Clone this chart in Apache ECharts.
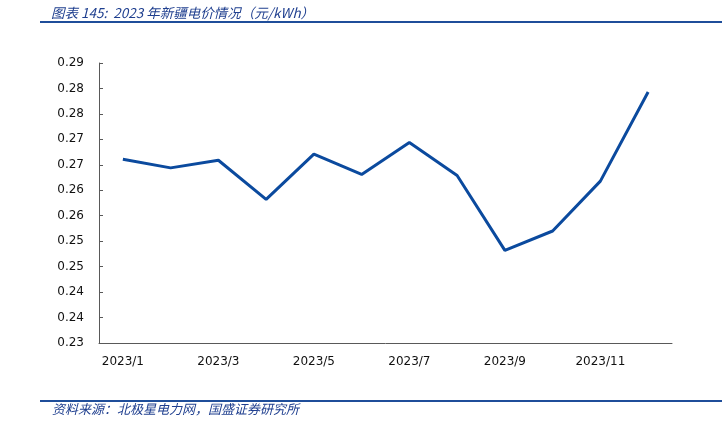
<!DOCTYPE html>
<html>
<head>
<meta charset="utf-8">
<script src="https://cdn.jsdelivr.net/npm/echarts@6/dist/echarts.min.js"></script>
<style>
html,body{margin:0;padding:0;background:#fff;}
#c{width:722px;height:432px;}
</style>
</head>
<body>
<div id="c"></div>
<script>
const titleText = '图表 145:  2023 年新疆电价情况（元/kWh）';
const sourceText = '资料来源：北极星电力网，国盛证券研究所';
const months = ['2023/1','2023/2','2023/3','2023/4','2023/5','2023/6','2023/7','2023/8','2023/9','2023/10','2023/11','2023/12'];
const prices = [0.2661,0.2644,0.2659,0.2582,0.2671,0.2631,0.2694,0.2629,0.2482,0.2520,0.2618,0.2793];
const yMin = 0.23, yMax = 0.285, yStep = 0.005;

const chart = echarts.init(document.getElementById('c'), null, {renderer:'canvas'});
chart.setOption({
  animation:false,
  backgroundColor:'#fff',
  graphic:[
    {type:'text', left:51, top:6, style:{text:titleText, font:'italic 13.5px "Noto Sans CJK SC"', fill:'#1f3f8f'}},
    {type:'rect', shape:{x:40, y:21, width:682, height:2}, style:{fill:'#1f4e9a'}},
    {type:'rect', shape:{x:40, y:400, width:682, height:2}, style:{fill:'#1f4e9a'}},
    {type:'text', left:52, top:403, style:{text:sourceText, font:'italic 13px "Noto Sans CJK SC"', fill:'#1f3f8f'}}
  ],
  grid:{left:99, right:50, top:63, bottom:89},
  xAxis:{
    type:'category', data:months, boundaryGap:true,
    axisLine:{lineStyle:{color:'#595959', width:1}},
    axisTick:{interval:1, inside:true, length:4, lineStyle:{color:'#595959'}},
    axisLabel:{interval:1, color:'#111', fontFamily:'DejaVu Sans', fontSize:12, margin:13}
  },
  yAxis:{
    type:'value', min:yMin, max:yMax, interval:yStep,
    splitLine:{show:false},
    axisLine:{show:true, lineStyle:{color:'#595959', width:1}},
    axisTick:{show:true, inside:true, length:4, lineStyle:{color:'#595959'}},
    axisLabel:{color:'#111', fontFamily:'DejaVu Sans', fontSize:12, margin:15,
      formatter:function(v){return (Math.round(v*100+1e-6)/100).toFixed(2);}}
  },
  series:[{
    type:'line', data:prices, symbol:'none', smooth:false,
    lineStyle:{color:'#0b4a9e', width:3}
  }]
});
</script>
</body>
</html>
